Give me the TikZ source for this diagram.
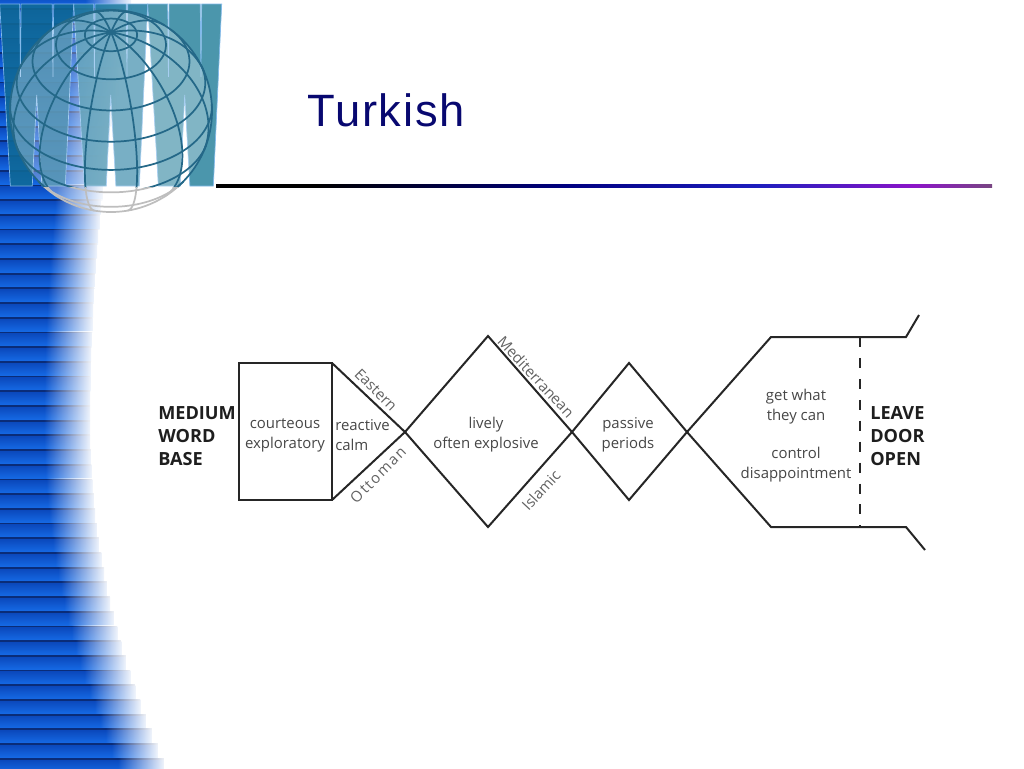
\documentclass[tikz,border=0pt]{standalone}
\usepackage{fontspec}
\setmainfont{Open Sans}
\newfontfamily\titlefont[LetterSpace=4]{Liberation Sans}
\newfontfamily\spacedfont[LetterSpace=10]{Open Sans}
\usepackage{xcolor}
\usepackage{tikz}
\usetikzlibrary{positioning,fadings}
\definecolor{stripeblue}{RGB}{22,108,232}
\definecolor{stripedeep}{RGB}{10,70,185}
\definecolor{stripedark}{RGB}{10,44,120}
\definecolor{wwwedge}{RGB}{130,185,235}
\definecolor{gridteal}{RGB}{36,104,136}
\definecolor{gridgrey}{RGB}{190,190,190}
\definecolor{titlenavy}{RGB}{8,8,112}
\definecolor{rulenavy}{RGB}{0,0,128}
\definecolor{ruleblue}{RGB}{30,30,190}
\definecolor{rulepurple}{RGB}{140,20,200}
\definecolor{ruleend}{RGB}{120,70,130}
\definecolor{inktext}{RGB}{70,70,70}
\definecolor{inkline}{RGB}{38,38,38}
\definecolor{inkbold}{RGB}{30,30,30}
\tikzfading[name=towhite,left color=transparent!100,right color=transparent!0]
\pgfdeclarehorizontalshading{rulecolours}{100bp}{
  color(0bp)=(black); color(31.5bp)=(black); color(47.5bp)=(rulenavy);
  color(60bp)=(ruleblue); color(70bp)=(rulepurple); color(75bp)=(ruleend); color(100bp)=(ruleend)}

\begin{document}
\begin{tikzpicture}[x=0.75pt,y=-0.75pt,
contour/.style={draw=inkline,line width=1.5pt,line join=miter},
remark/.style={font=\fontsize{11.2}{15}\selectfont,text=inktext,align=center,inner sep=0pt},
leftremark/.style={remark,align=left},
sidelabel/.style={font=\fontsize{13.6}{17.5}\selectfont\bfseries,text=inkbold,align=left,inner sep=0pt},
edgelabel/.style={font=\fontsize{11.2}{14}\selectfont,text=inktext!85,inner sep=0pt},
gridline/.style={line width=1.3pt}]
\useasboundingbox (0,0) rectangle (1024,768);

% stripes at the left
\foreach \n in {-1,...,52}{
  \pgfmathsetmacro{\ytop}{9.0+14.7*\n}
  \pgfmathsetmacro{\xend}{\ytop<420 ? 90+40*((420-\ytop)/420)^2 : 90+78*((\ytop-420)/348)^2}
  \shade[top color=stripedeep,bottom color=stripeblue] (0,\ytop) rectangle (\xend,\ytop+14.7);
  \fill[stripedark] (0,\ytop-0.9) rectangle (\xend,\ytop+0.9);
  \fill[white,path fading=towhite] (\xend-46,\ytop-1) rectangle (\xend+3,\ytop+13.9);
}

% www letters
\foreach \xo/\wwwcol in {-0.3/{rgb,255:red,15;green,105;blue,150},73.7/{rgb,255:red,35;green,125;blue,160},147.7/{rgb,255:red,50;green,135;blue,160}}{
  \fill[fill=\wwwcol,fill opacity=0.88,draw=wwwedge,line width=0.5pt,shift={(\xo,4)},x=0.75pt*74,y=-0.75pt*182]
    (0,0) -- (.27,0) -- (.28,.4) -- (.29,0) -- (.71,0) -- (.72,.4) -- (.73,0) -- (1,0)
    -- (.887,1) -- (.57,1) -- (.5,.5) -- (.44,1) -- (.144,1) -- cycle;
}

% globe
\fill[white,fill opacity=0.3] (111,111) circle (101);
\foreach \part/\gridcol in {{(0,0) rectangle (300,187)}/gridteal,{(0,187) rectangle (300,260)}/gridgrey}{
\begin{scope}
  \clip \part;
  \draw[\gridcol,gridline] (111,111) circle (101);
  \foreach \lat in {75,57,39,21,3,-15,-33}{
    \pgfmathsetmacro{\lonmax}{acos(max(-1,min(1,-tan(\lat)*0.8)))}
    \draw[\gridcol,gridline] plot[smooth,samples=41,domain=-\lonmax:\lonmax]
      ({111+101*cos(\lat)*sin(\x)},{111-101*(sin(\lat)*0.78-cos(\lat)*cos(\x)*0.625)});
  }
  \foreach \lon in {15,45,75,105,135,165,195,225,255,285,315,345}{
    \pgfmathsetmacro{\latmin}{atan(-cos(\lon)*1.25)}
    \draw[\gridcol,gridline] plot[smooth,samples=31,domain=\latmin:90]
      ({111+101*cos(\x)*sin(\lon)},{111-101*(sin(\x)*0.78-cos(\x)*cos(\lon)*0.625)});
  }
\end{scope}
}

% title and rule
\node[anchor=base west,inner sep=0pt,text=titlenavy,font=\fontsize{34}{40}\selectfont\titlefont] (title) at (307,126) {Turkish};
\shade[shading=rulecolours] (216,184.5) rectangle (992,187.5);

% corner points of the outline
\coordinate (boxnw) at (239,363);
\coordinate (boxne) at (332,363);
\coordinate (boxse) at (332,500);
\coordinate (boxsw) at (239,500);
\coordinate (crossa) at (405,432);
\coordinate (bigtop) at (488,336);
\coordinate (bigbot) at (488,527);
\coordinate (crossb) at (572,432);
\coordinate (smalltop) at (629,363);
\coordinate (smallbot) at (629,500);
\coordinate (crossc) at (687,432);
\coordinate (opentop) at (771,337);
\coordinate (openbot) at (771,527);
\coordinate (doortop) at (860,337);
\coordinate (doorbot) at (860,527);
\coordinate (lipstop) at (906,337);
\coordinate (lipsbot) at (906,527);
\coordinate (endtop) at (919,315);
\coordinate (endbot) at (925,550);

\draw[contour] (boxne) -- (boxnw) -- (boxsw) -- (boxse) -- cycle;
\draw[contour] (boxne) -- (crossa) -- (bigbot) -- (crossb) -- (smalltop) -- (crossc) -- (openbot) -- (lipsbot) -- (endbot);
\draw[contour] (boxse) -- (crossa) -- (bigtop) -- (crossb) -- (smallbot) -- (crossc) -- (opentop) -- (lipstop) -- (endtop);
\draw[contour,dash pattern=on 7.5pt off 8.2pt] (doortop) -- (doorbot);

% words
\node[sidelabel,anchor=west] (wordbase) at (158,436) {MEDIUM\\WORD\\BASE};
\node[remark] (courteous) at (285,435) {courteous\\exploratory};
\node[leftremark,anchor=west] (reactive) at (335,435) {reactive\\calm};
\node[remark] (lively) at (486,435) {lively\\often explosive};
\node[remark] (passive) at (628,435) {passive\\periods};
\node[remark] (getwhat) at (796,407) {get what\\they can};
\node[remark] (control) at (796,465) {control\\disappointment};
\node[sidelabel,anchor=west] (leavedoor) at (870,436) {LEAVE\\DOOR\\OPEN};
\node[edgelabel,rotate=-45] (eastern) at (376,390) {Eastern};
\node[edgelabel,rotate=45,font=\fontsize{11.2}{14}\selectfont\spacedfont] (ottoman) at (378,475) {Ottoman};
\node[edgelabel,rotate=-47] (mediterranean) at (536,377) {Mediterranean};
\node[edgelabel,rotate=47] (islamic) at (541,490) {Islamic};
\end{tikzpicture}
\end{document}
